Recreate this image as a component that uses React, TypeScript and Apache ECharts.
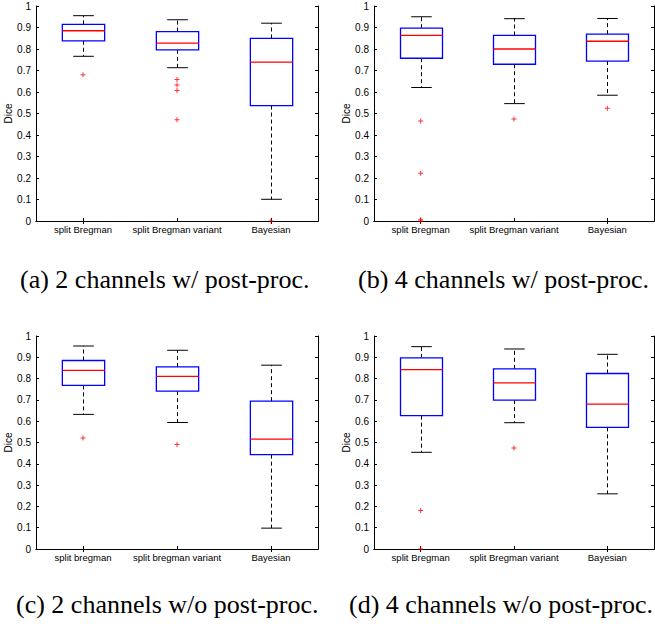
import React, { useEffect, useRef } from "react";
import * as echarts from "echarts";

// Category labels
const categoriesBregman = ["split Bregman", "split Bregman variant", "Bayesian"];
const categoriesBregmanLower = ["split bregman", "split bregman variant", "Bayesian"];

// Box statistics: [lower whisker, Q1, median, Q3, upper whisker]
const boxA = [
  [0.766, 0.838, 0.885, 0.915, 0.955],
  [0.713, 0.796, 0.827, 0.881, 0.936],
  [0.101, 0.537, 0.739, 0.849, 0.92],
];
const outliersA = [[0, 0.68], [1, 0.658], [1, 0.633], [1, 0.607], [1, 0.471], [2, 0.0]];

const boxB = [
  [0.621, 0.757, 0.863, 0.897, 0.95],
  [0.546, 0.729, 0.8, 0.863, 0.941],
  [0.585, 0.744, 0.836, 0.869, 0.942],
];
const outliersB = [[0, 0.465], [0, 0.222], [0, 0.006], [0, 0.0], [1, 0.474], [2, 0.524]];

const boxC = [
  [0.632, 0.768, 0.839, 0.885, 0.953],
  [0.594, 0.741, 0.81, 0.855, 0.933],
  [0.098, 0.443, 0.516, 0.694, 0.863],
];
const outliersC = [[0, 0.521], [1, 0.491]];

const boxD = [
  [0.454, 0.626, 0.842, 0.897, 0.95],
  [0.593, 0.699, 0.78, 0.846, 0.939],
  [0.259, 0.571, 0.68, 0.824, 0.914],
];
const outliersD = [[0, 0.181], [0, 0.0], [1, 0.474]];

const captions = [
  "(a) 2 channels w/ post-proc.",
  "(b) 4 channels w/ post-proc.",
  "(c) 2 channels w/o post-proc.",
  "(d) 4 channels w/o post-proc.",
];

const yAxisName = "Dice";

const panels = [
  { cats: categoriesBregman, box: boxA, out: outliersA },
  { cats: categoriesBregman, box: boxB, out: outliersB },
  { cats: categoriesBregmanLower, box: boxC, out: outliersC },
  { cats: categoriesBregman, box: boxD, out: outliersD },
];

const gridPos = [
  { left: 36, top: 6, width: 282, height: 215 },
  { left: 374, top: 6, width: 280, height: 215 },
  { left: 36, top: 336, width: 282, height: 213 },
  { left: 374, top: 336, width: 280, height: 213 },
];

const captionPos = [
  { x: 20, y: 279 },
  { x: 358, y: 279 },
  { x: 16, y: 604 },
  { x: 349, y: 604 },
];

const SANS = "'Liberation Sans', Arial, Helvetica, sans-serif";
const SERIF = "'Liberation Serif', 'Times New Roman', serif";

function renderBox(params: any, api: any) {
  const x = api.value(0);
  const lo = api.coord([x, api.value(1)]);
  const q1 = api.coord([x, api.value(2)]);
  const med = api.coord([x, api.value(3)]);
  const q3 = api.coord([x, api.value(4)]);
  const hi = api.coord([x, api.value(5)]);
  const band = api.size([1, 0])[0];
  const bw = band * 0.45;
  const cw = band * 0.22;
  const cx = Math.round(lo[0]) + 0.5;
  const dash = { stroke: "#000", lineWidth: 1, lineDash: [4, 3] };
  const solid = { stroke: "#000", lineWidth: 1 };
  return {
    type: "group",
    children: [
      { type: "line", shape: { x1: cx, y1: q3[1], x2: cx, y2: hi[1] }, style: dash },
      { type: "line", shape: { x1: cx, y1: q1[1], x2: cx, y2: lo[1] }, style: dash },
      { type: "line", shape: { x1: cx - cw / 2, y1: hi[1], x2: cx + cw / 2, y2: hi[1] }, style: solid },
      { type: "line", shape: { x1: cx - cw / 2, y1: lo[1], x2: cx + cw / 2, y2: lo[1] }, style: solid },
      {
        type: "rect",
        shape: { x: cx - bw / 2, y: q3[1], width: bw, height: q1[1] - q3[1] },
        style: { fill: "#fff", stroke: "#0000ff", lineWidth: 1.3 },
      },
      {
        type: "line",
        shape: { x1: cx - bw / 2, y1: med[1], x2: cx + bw / 2, y2: med[1] },
        style: { stroke: "#ff0000", lineWidth: 1.3 },
      },
    ],
  };
}

export default function App() {
  const ref = useRef<HTMLDivElement>(null);
  useEffect(() => {
    if (!ref.current) return;
    const chart = echarts.init(ref.current, null, { renderer: "svg" });
    const xAxis: any[] = [];
    const yAxis: any[] = [];
    const series: any[] = [];
    panels.forEach((p, i) => {
      const baseAxisLine = { show: true, lineStyle: { color: "#000", width: 1 } };
      const tick = { show: true, inside: true, length: 3, lineStyle: { color: "#000" } };
      xAxis.push({
        type: "category",
        gridIndex: i,
        data: p.cats,
        position: "bottom",
        axisLine: baseAxisLine,
        axisTick: { ...tick, alignWithLabel: true },
        axisLabel: {
          color: "#000",
          fontSize: 9.5,
          fontFamily: SANS,
          margin: 3,
          interval: 0,
          hideOverlap: false,
        },
        splitLine: { show: false },
      });
      xAxis.push({
        type: "category",
        gridIndex: i,
        data: p.cats,
        position: "top",
        axisLine: baseAxisLine,
        axisTick: { ...tick, alignWithLabel: true },
        axisLabel: { show: false },
        splitLine: { show: false },
      });
      yAxis.push({
        type: "value",
        gridIndex: i,
        min: 0,
        max: 1,
        interval: 0.1,
        position: "left",
        name: yAxisName,
        nameLocation: "middle",
        nameRotate: 90,
        nameGap: 17,
        nameTextStyle: { color: "#000", fontSize: 10, fontFamily: SANS },
        axisLine: baseAxisLine,
        axisTick: tick,
        axisLabel: { color: "#000", fontSize: 10, fontFamily: SANS, margin: 5 },
        splitLine: { show: false },
      });
      yAxis.push({
        type: "value",
        gridIndex: i,
        min: 0,
        max: 1,
        interval: 0.1,
        position: "right",
        axisLine: baseAxisLine,
        axisTick: tick,
        axisLabel: { show: false },
        splitLine: { show: false },
      });
      series.push({
        type: "custom",
        xAxisIndex: i * 2,
        yAxisIndex: i * 2,
        renderItem: renderBox,
        encode: { x: 0, y: [1, 2, 3, 4, 5] },
        data: p.box.map((b, k) => [k, ...b]),
        z: 2,
      });
      series.push({
        type: "scatter",
        xAxisIndex: i * 2,
        yAxisIndex: i * 2,
        symbol: "path://M4,0H6V4H10V6H6V10H4V6H0V4H4Z",
        symbolSize: 5,
        itemStyle: { color: "#ff0000" },
        data: p.out,
        z: 3,
      });
    });
    chart.setOption({
      animation: false,
      backgroundColor: "#fff",
      grid: gridPos.map((g) => ({ ...g, containLabel: false })),
      xAxis,
      yAxis,
      series,
      graphic: captions.map((c, i) => ({
        type: "text",
        x: captionPos[i].x,
        y: captionPos[i].y,
        style: {
          text: c,
          fill: "#000",
          font: `26px ${SERIF}`,
          textAlign: "left",
          textVerticalAlign: "middle",
        },
      })),
    });
    return () => chart.dispose();
  }, []);
  return (
    <div
      ref={ref}
      style={{ position: "absolute", left: 0, top: 0, width: 655, height: 627 }}
    />
  );
}
